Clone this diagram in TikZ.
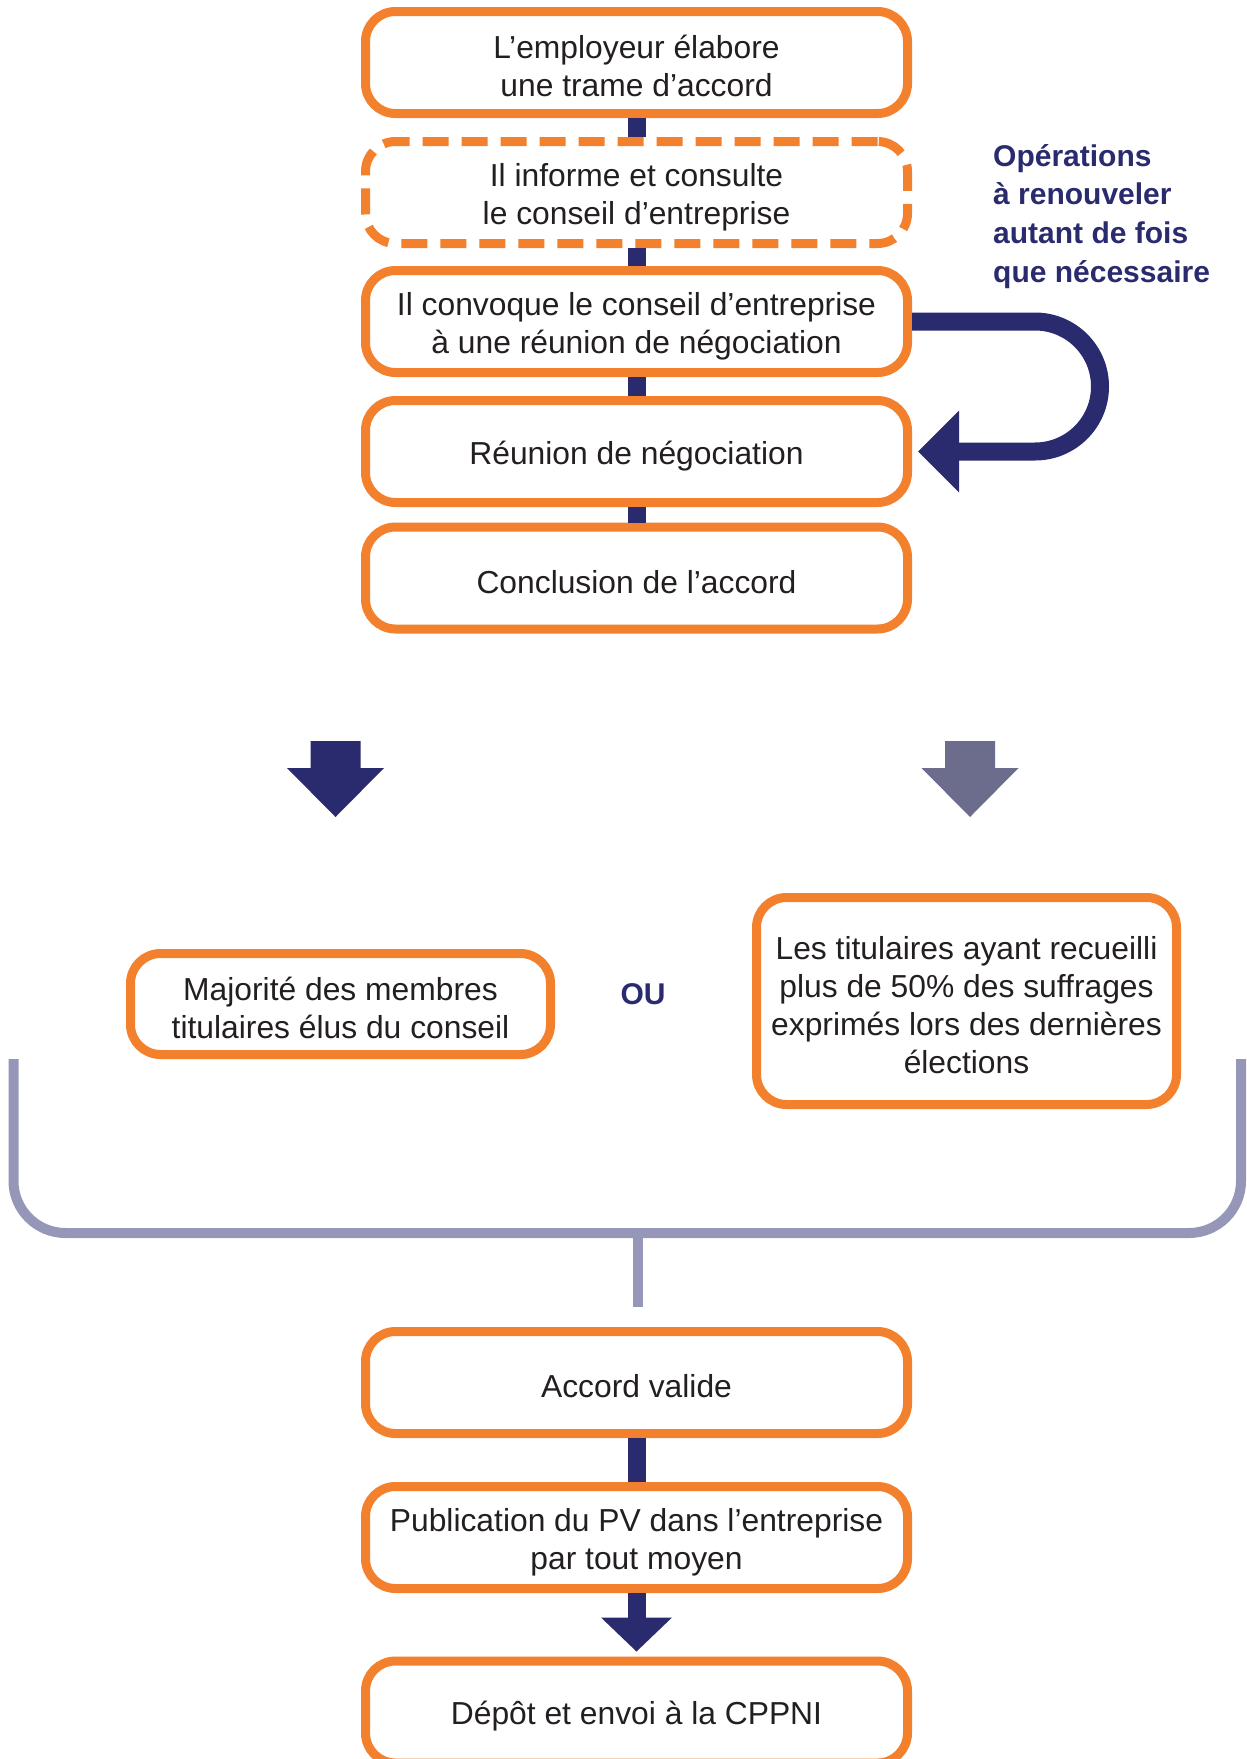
\documentclass[tikz,border=0pt]{standalone}
\usepackage{fontspec}
\setmainfont{Liberation Sans}
\usetikzlibrary{arrows.meta}

\definecolor{accent}{RGB}{243,128,45}
\definecolor{navy}{RGB}{42,43,111}
\definecolor{slate}{RGB}{108,108,141}
\definecolor{lavender}{RGB}{150,150,185}
\definecolor{ink}{RGB}{35,31,32}

\newcommand\boxfont{\fontsize{31.8}{38}\selectfont}
\newcommand\notefont{\bfseries\fontsize{30}{38.7}\selectfont}
% fixed extents above the first line and below the last one,
% so every box centres its lines the same way
\newcommand\topstrut{\rule{0pt}{32pt}}
\newcommand\bottomstrut{\rule[-2pt]{0pt}{2pt}}

\begin{document}
\begin{tikzpicture}[x=1pt,y=1pt,
  box/.style={draw=accent, line width=9pt, rounded corners=30pt, fill=white,
    minimum width=542pt, minimum height=102pt, inner sep=0pt,
    align=center, font=\boxfont, text=ink,
    execute at begin node=\topstrut, execute at end node=\bottomstrut},
  dashedbox/.style={box, dash pattern=on 26pt off 13pt},
  link/.style={draw=navy, line width=18pt},
  repeatarrow/.style={draw=navy, line width=18pt,
    -{Triangle[length=41pt,width=82pt,line width=0pt]}},
  bracketline/.style={draw=lavender, line width=10pt},
  blockdown/.pic={\fill (-25,0) -- (25,0) -- (25,-27) -- (48.5,-27)
    -- (0,-76) -- (-48.5,-27) -- (-25,-27) -- cycle;}
]
\useasboundingbox (0,0) rectangle (1247,-1759);

% negotiation steps
\node[box] (b1) at (636.5,-62.5) {\topstrut L’employeur élabore\\une trame d’accord\bottomstrut};
\node[dashedbox] (b2) at (636.5,-192.5) {\topstrut Il informe et consulte\\le conseil d’entreprise\bottomstrut};
\node[box] (b3) at (636.5,-321.5) {\topstrut Il convoque le conseil d’entreprise\\à une réunion de négociation\bottomstrut};
\node[box] (b4) at (636.5,-451.5) {Réunion de négociation};
\node[box] (b5) at (636.5,-578) {Conclusion de l’accord};

\draw[link] (b1) -- (b2);
\draw[link] (b2) -- (b3);
\draw[link] (b3) -- (b4);
\draw[link] (b4) -- (b5);

% repeat loop
\draw[repeatarrow] (b3.east) -- ++(123,0)
  arc[start angle=90, end angle=-90, radius=65] -- ([xshift=6pt]b4.east);
\node[font=\notefont, text=navy, align=left, anchor=north west, inner sep=0pt]
  (note) at (993,-144) {Opérations\\à renouveler\\autant de fois\\que nécessaire};

% two ways of approval
\pic[fill=navy] at (335.5,-741) {blockdown};
\pic[fill=slate] at (970,-741) {blockdown};

\node[box, minimum width=420pt, minimum height=101pt] (maj) at (340.5,-1004)
  {\topstrut Majorité des membres\\titulaires élus du conseil\bottomstrut};
\node[box, minimum width=420pt, minimum height=207pt] (tit) at (966.5,-1001)
  {\topstrut Les titulaires ayant recueilli\\plus de 50\% des suffrages\\exprimés lors des dernières\\élections\bottomstrut};
\node[font=\notefont, text=navy, inner sep=0pt] (ou) at (643,-994) {OU};

% gathering bracket
\draw[bracketline] (13.5,-1059) -- (13.5,-1181)
  arc[start angle=180, end angle=270, radius=52] -- (1189,-1233)
  arc[start angle=270, end angle=360, radius=52] -- (1241,-1059);
\coordinate (join) at (637.5,-1233);
\coordinate (stemend) at (637.5,-1307);
\draw[bracketline] (join) -- (stemend);

% final steps
\node[box] (valide) at (636.5,-1382.5) {Accord valide};
\node[box] (pub) at (636.5,-1537.5) {\topstrut Publication du PV dans l’entreprise\\par tout moyen\bottomstrut};
\node[box] (dep) at (636.5,-1712) {Dépôt et envoi à la CPPNI};

\draw[link] (valide) -- (pub);
\draw[link, -{Triangle[length=34pt,width=71pt,line width=0pt]}, shorten >=5pt] (pub) -- (dep);
\end{tikzpicture}
\end{document}
